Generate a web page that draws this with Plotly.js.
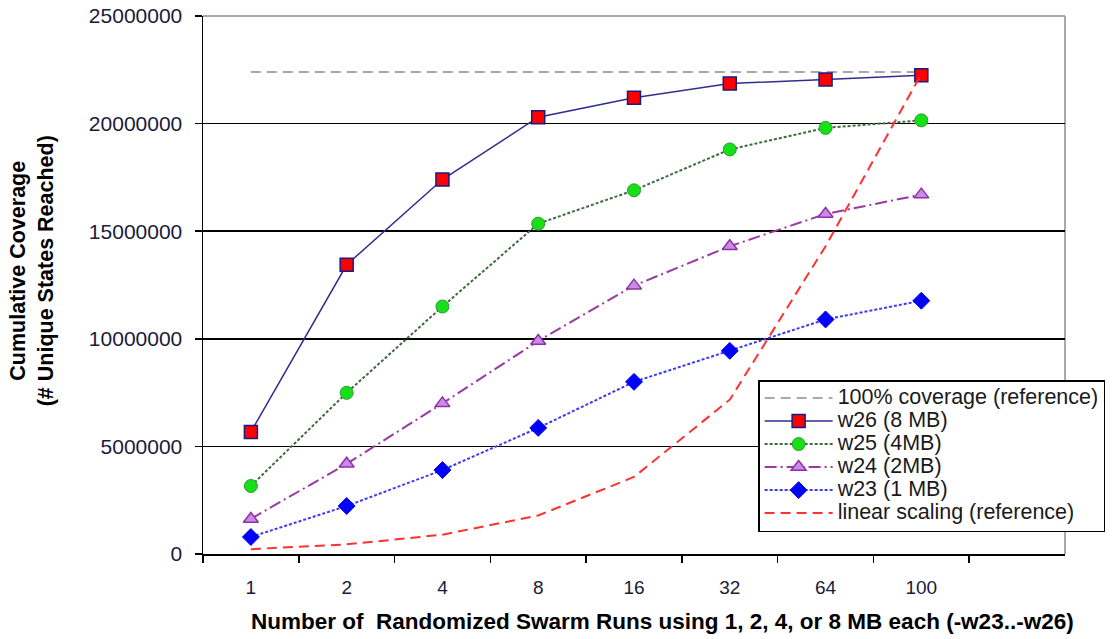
<!DOCTYPE html>
<html><head><meta charset="utf-8">
<script src="https://cdn.plot.ly/plotly-3.0.1.min.js"></script>
<style>
html,body{margin:0;padding:0;background:#fff}
.legendtext{font-size:21.5px !important;}
</style>
</head><body>
<div id="chart" style="width:1120px;height:639px"></div>
<script>
// Data
const runs = ['1', '2', '4', '8', '16', '32', '64', '100'];
const coverage100 = [22400000, 22400000, 22400000, 22400000, 22400000, 22400000, 22400000, 22400000];
const w26 = [5670000, 13440000, 17400000, 20300000, 21200000, 21860000, 22050000, 22250000];
const w25 = [3160000, 7490000, 11500000, 15350000, 16900000, 18800000, 19800000, 20150000];
const w24 = [1630000, 4190000, 7000000, 9900000, 12470000, 14300000, 15800000, 16700000];
const w23 = [790000, 2230000, 3900000, 5860000, 8000000, 9440000, 10900000, 11770000];
const linearScaling = [224000, 448000, 896000, 1790000, 3580000, 7170000, 14300000, 22300000];
const yTicks = [0, 5000000, 10000000, 15000000, 20000000, 25000000];

const FONT = '"Liberation Sans", Arial, sans-serif';

const traces = [
  {name: '100% coverage (reference)', x: runs, y: coverage100, mode: 'lines',
   line: {color: '#8c8c8c', width: 1.5, dash: '10px,6px'}},
  {name: 'w26 (8 MB)', x: runs, y: w26, mode: 'lines+markers',
   line: {color: '#2e2e8f', width: 1.5},
   marker: {symbol: 'square', size: 13, color: '#ff0000', line: {color: '#1a1a80', width: 1.5}}},
  {name: 'w25 (4MB)', x: runs, y: w25, mode: 'lines+markers',
   line: {color: '#3d6b3d', width: 2, dash: '3px,2px'},
   marker: {symbol: 'circle', size: 13, color: '#18e018', line: {color: '#2f9a2f', width: 1}}},
  {name: 'w24 (2MB)', x: runs, y: w24, mode: 'lines+markers',
   line: {color: '#9a3aa0', width: 2, dash: '12px,4px,2px,4px'},
   marker: {symbol: 'triangle-up', size: 13, color: '#c98be8', line: {color: '#9030a8', width: 1.5}}},
  {name: 'w23 (1 MB)', x: runs, y: w23, mode: 'lines+markers',
   line: {color: '#3a3af5', width: 2, dash: '3px,2px'},
   marker: {symbol: 'diamond', size: 13, color: '#0000ff', line: {color: '#0000ee', width: 1}}},
  {name: 'linear scaling (reference)', x: runs, y: linearScaling, mode: 'lines',
   line: {color: '#ff3030', width: 2, dash: '10px,6px'}}
];

const layout = {
  width: 1120, height: 639,
  margin: {l: 203, r: 55, t: 16, b: 85, autoexpand: false},
  paper_bgcolor: '#fff', plot_bgcolor: '#fff',
  font: {family: FONT, size: 19, color: '#111'},
  showlegend: true,
  legend: {
    x: 0.644, y: 0.3234, xanchor: 'left', yanchor: 'top',
    bgcolor: '#fff', bordercolor: '#000', borderwidth: 1.5,
    font: {family: FONT, size: 15.4, color: '#1a1a1a'},
    itemwidth: 68, tracegroupgap: 0, traceorder: 'normal'
  },
  xaxis: {
    type: 'category', categoryarray: runs, categoryorder: 'array',
    range: [-0.5, 8.5],
    tickson: 'boundaries', ticks: 'outside', ticklen: 7, tickwidth: 1.5, tickcolor: '#000',
    showline: true, linecolor: '#000', linewidth: 1.5,
    showgrid: false, zeroline: false,
    tickfont: {family: FONT, size: 19, color: '#1a1a3a'},
    ticklabelstandoff: 16
  },
  yaxis: {
    range: [0, 25000000], tickmode: 'array', tickvals: yTicks,
    tickformat: 'd',
    ticks: 'outside', ticklen: 7, tickwidth: 1.5, tickcolor: '#000',
    showline: true, linecolor: '#000', linewidth: 1.5,
    showgrid: true, gridcolor: '#000', gridwidth: 1.5, zeroline: false,
    tickfont: {family: FONT, size: 21, color: '#1a1a3a'},
    ticklabelstandoff: 8
  },
  shapes: [
    {type: 'line', xref: 'paper', yref: 'paper', x0: 0, x1: 1, y0: 1, y1: 1,
     line: {color: '#8c8c8c', width: 1.5}, layer: 'above'},
    {type: 'line', xref: 'paper', yref: 'paper', x0: 1, x1: 1, y0: 0, y1: 1,
     line: {color: '#8c8c8c', width: 1.5}, layer: 'below'}
  ],
  annotations: [
    {text: '<b>Number of  Randomized Swarm Runs using 1, 2, 4, or 8 MB each (-w23..-w26)</b>',
     xref: 'paper', yref: 'paper', x: 0.5325, y: -0.126, xanchor: 'center', yanchor: 'middle',
     showarrow: false, font: {family: FONT, size: 22.5, color: '#000'}},
    {text: '<b>Cumulative Coverage<br>(# Unique States Reached)</b>',
     xref: 'paper', yref: 'paper', x: -0.198, y: 0.526, xanchor: 'center', yanchor: 'middle',
     textangle: -90, showarrow: false, font: {family: FONT, size: 21.5, color: '#000'}}
  ]
};

Plotly.newPlot('chart', traces, layout, {staticPlot: true, displayModeBar: false});
</script>
</body></html>
